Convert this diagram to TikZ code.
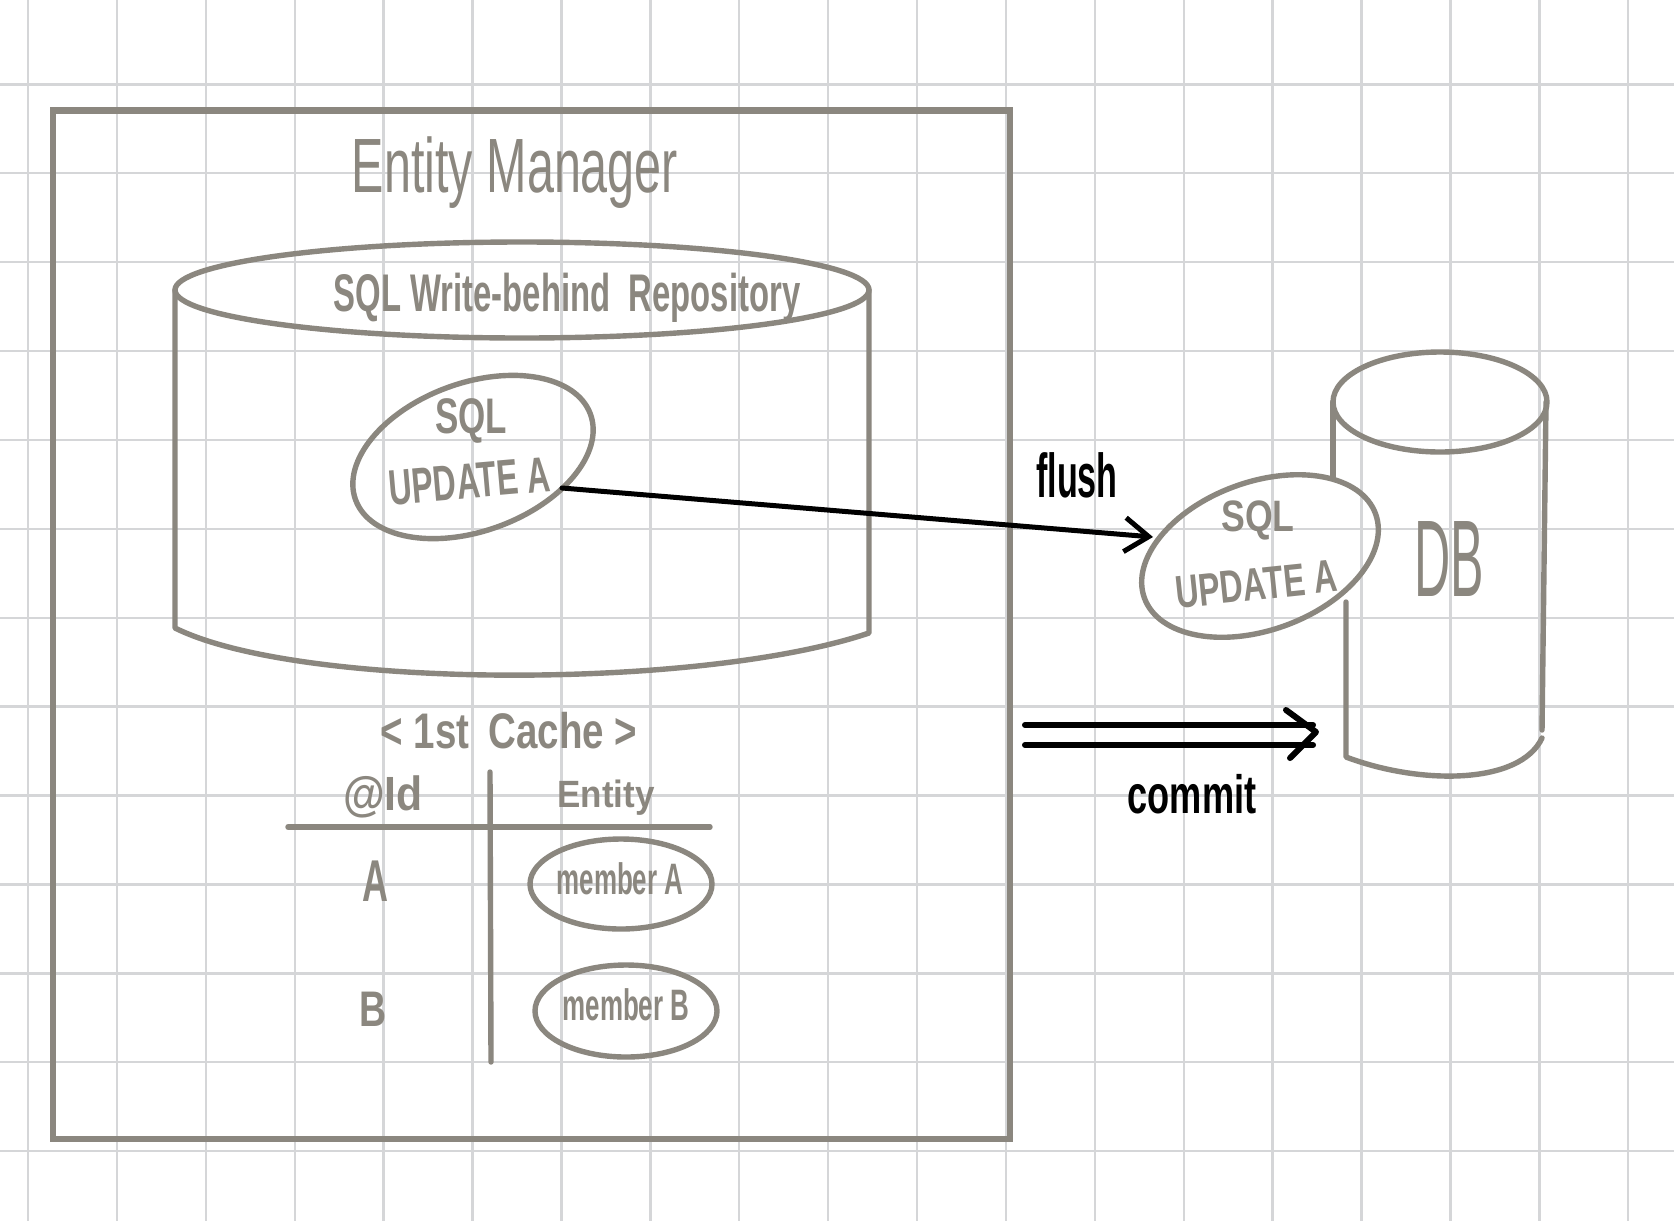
\documentclass[tikz,border=0pt]{standalone}
\usepackage{fontspec}
\setmainfont{Liberation Sans}
\usepackage{graphicx}
\usetikzlibrary{arrows.meta,shapes.geometric}
\definecolor{pen}{HTML}{8B877F}
\definecolor{gridc}{HTML}{D5D6D8}
\newcommand\hw[3]{\scalebox{#1}[1]{\fontsize{#2}{#2}\selectfont #3}}
\begin{document}
\begin{tikzpicture}[x=0.5pt,y=-0.5pt,
  gline/.style={gridc, line width=1.2pt},
  pencil/.style={pen, line width=2.7pt, line cap=round, line join=round},
  frame/.style={pen, line width=3.1pt},
  ink/.style={black, line width=2.5pt, line cap=round, line join=round},
  lbl/.style={pen, anchor=base, inner sep=0pt, font=\bfseries},
  lblr/.style={pen, anchor=base, inner sep=0pt},
  blbl/.style={black, anchor=base, inner sep=0pt, font=\bfseries},
  bubble/.style={ellipse, draw=pen, line width=2.7pt, inner sep=0pt},
]
\useasboundingbox (0,0) rectangle (1674,1221);
\fill[white] (0,0) rectangle (1674,1221);
% grid
\foreach \i in {0,...,18} \draw[gline] ({28+88.9*\i},0) -- ({28+88.9*\i},1221);
\foreach \j in {0,...,12} \draw[gline] (0,{84.3+88.9*\j}) -- (1674,{84.3+88.9*\j});
% entity manager frame
\draw[frame] (53,110.5) rectangle (1010,1139);
\node (title) [lblr] at (515,192) {\hw{0.63}{38.5}{Entity Manager}};
% write-behind repository cylinder
\draw[pencil] (522,290) ellipse [x radius=173.5pt, y radius=24pt];
\draw[pencil] (175,290) -- (175,628) .. controls (300,690) and (700,690) .. (869,633) -- (869,290);
\node (repo) [lbl] at (567,311) {\hw{0.62}{26.5}{SQL Write-behind~ Repository}};
% SQL bubble in repository
\node (bub1) [bubble, minimum width=125pt, minimum height=74pt, rotate=20] at (473,457) {};
\node (sql1) [lbl] at (471,433) {\hw{0.70}{25}{SQL}};
\node (upd1) [lbl, rotate=5] at (471,498) {\hw{0.64}{25}{UPDATE A}};
% 1st cache table
\node (cache) [lbl] at (509,748) {\hw{0.77}{25}{< 1st\enspace Cache >}};
\node (idh) [lbl] at (383,810) {\hw{0.89}{24}{@Id}};
\node (enth) [lbl] at (606,807) {\hw{0.92}{19}{Entity}};
\coordinate (vt) at (490,772);
\coordinate (vb) at (491,1062);
\coordinate (hl) at (288,827);
\coordinate (hr) at (710,827);
\draw[pencil] (vt) -- (vb);
\draw[pencil] (hl) -- (hr);
\node (ka) [lbl] at (375,901) {\hw{0.61}{29.5}{A}};
\node (kb) [lbl] at (373,1026) {\hw{0.75}{25}{B}};
\node (va) [bubble, minimum width=91pt, minimum height=45pt] at (621,884) {};
\node (vb2) [bubble, minimum width=91pt, minimum height=46pt] at (626,1011) {};
\node (ma) [lbl] at (620,894) {\hw{0.59}{22}{member A}};
\node (mb) [lbl] at (626,1020) {\hw{0.59}{22}{member B}};
% DB cylinder
\draw[pencil] (1440,402) ellipse [x radius=53.5pt, y radius=25pt];
\draw[pencil] (1333,402) -- (1333,477);
\draw[pencil] (1346,602) -- (1346,757) .. controls (1420,785) and (1520,785) .. (1542,738);
\draw[pencil] (1546,402) -- (1542,730);
\node (db) [lblr] at (1449,596) {\hw{0.46}{54.5}{DB}};
% SQL bubble at DB
\node (bub2) [bubble, minimum width=123pt, minimum height=74pt, rotate=20] at (1260,556) {};
\node (sql2) [lbl] at (1258,531) {\hw{0.81}{22}{SQL}};
\node (upd2) [lbl, rotate=6] at (1258,600) {\hw{0.70}{23}{UPDATE A}};
% flush arrow
\coordinate (f1) at (562,488);
\coordinate (f2) at (1153,537);
\draw[ink, -{Straight Barb[length=12pt,width=17pt]}] (f1) -- (f2);
\node (flushl) [blbl] at (1077,497) {\hw{0.55}{31}{flush}};
% commit arrow
\coordinate (c1a) at (1025,725);
\coordinate (c1b) at (1313,725);
\coordinate (c2a) at (1025,745);
\coordinate (c2b) at (1313,745);
\coordinate (ct) at (1316,732);
\draw[ink, line width=3pt] (c1a) -- (c1b);
\draw[ink, line width=3pt] (c2a) -- (c2b);
\draw[ink, line width=3pt] (1286,710) -- (ct) -- (1290,758);
\node (commitl) [blbl] at (1192,813) {\hw{0.67}{27}{commit}};
\end{tikzpicture}
\end{document}
